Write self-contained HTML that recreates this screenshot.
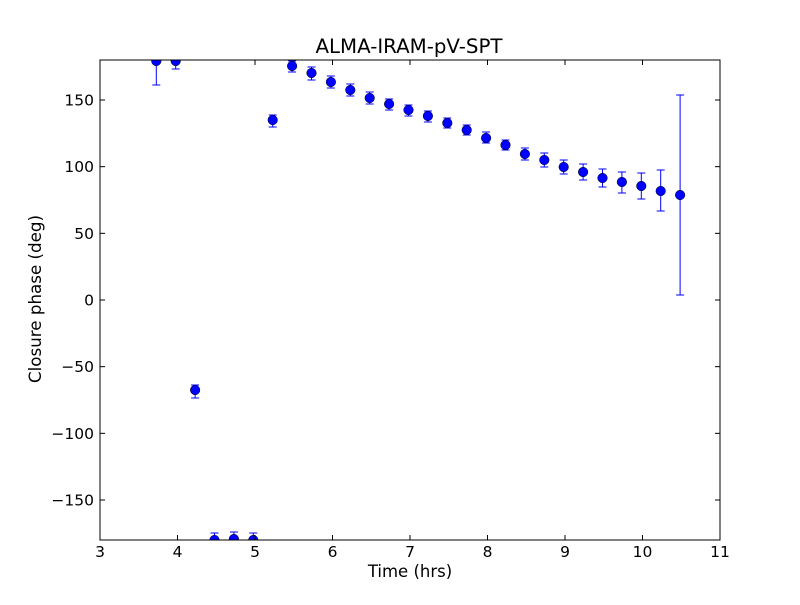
<!DOCTYPE html>
<html><head><meta charset="utf-8"><style>html,body{margin:0;padding:0;background:#fff}</style></head><body>
<svg width="800" height="600" xmlns="http://www.w3.org/2000/svg" font-family="'DejaVu Sans','Liberation Sans',sans-serif">
<rect width="800" height="600" fill="#fff"/>
<defs><clipPath id="c"><rect x="100" y="60" width="620" height="480"/></clipPath></defs>
<g clip-path="url(#c)" id="pts"></g>
<rect x="100" y="60" width="620" height="480" fill="none" stroke="#000" stroke-width="1"/>
<g id="ticks" stroke="#000" stroke-width="1"></g>
<g id="lbl" font-size="15.5" fill="#000"></g>
<text x="409" y="53" font-size="19.8" text-anchor="middle">ALMA-IRAM-pV-SPT</text>
<text x="410" y="577" font-size="16.5" text-anchor="middle">Time (hrs)</text>
<text x="41" y="299" font-size="16.7" text-anchor="middle" transform="rotate(-90 41 299)">Closure phase (deg)</text>
<script>
var ns="http://www.w3.org/2000/svg";
function el(p,t,a){var e=document.createElementNS(ns,t);for(var k in a)e.setAttribute(k,a[k]);p.appendChild(e);return e;}
var d=[[61,40,85],[61,40,69],[390,385,398],[540,533,560],[539,532,560],[540,533,560],[120,115,127],[66,61,72],[73,67,80],[82,76,88],[90,84,96],[98,92,104],[104,99,110],[110,105,116],[116,111,122],[123,118,128],[130,125,135],[138,132,143],[145,140,150],[154,148,160],[160,153,167],[167,160,174],[172,164,180],[178,169,187],[182,172,193],[186,173,199],[191,170,211],[195,95,295]];
var g=document.getElementById("pts");
d.forEach(function(p,i){var x=156.3+19.4*i;
el(g,"line",{x1:x,x2:x,y1:p[1],y2:p[2],stroke:"#0000ff","stroke-width":1});
el(g,"line",{x1:x-4,x2:x+4,y1:p[1],y2:p[1],stroke:"#0000ff","stroke-width":1});
el(g,"line",{x1:x-4,x2:x+4,y1:p[2],y2:p[2],stroke:"#0000ff","stroke-width":1});
el(g,"circle",{cx:x,cy:p[0],r:4.8,fill:"#0000ff",stroke:"#000","stroke-width":0.5});});
var t=document.getElementById("ticks"),l=document.getElementById("lbl");
for(var v=3;v<=11;v++){var x=100+(v-3)*77.5;
el(t,"line",{x1:x,x2:x,y1:540,y2:535});el(t,"line",{x1:x,x2:x,y1:60,y2:65});
var tx=el(l,"text",{x:x,y:557,"text-anchor":"middle"});tx.textContent=v;}
for(var v=-150;v<=150;v+=50){var y=300-v*480/360;
el(t,"line",{x1:100,x2:105,y1:y,y2:y});el(t,"line",{x1:720,x2:715,y1:y,y2:y});
var ty=el(l,"text",{x:94,y:y+5.5,"text-anchor":"end"});ty.textContent=(v<0?"\u2212"+(-v):v);}
</script>
</svg>
</body></html>
